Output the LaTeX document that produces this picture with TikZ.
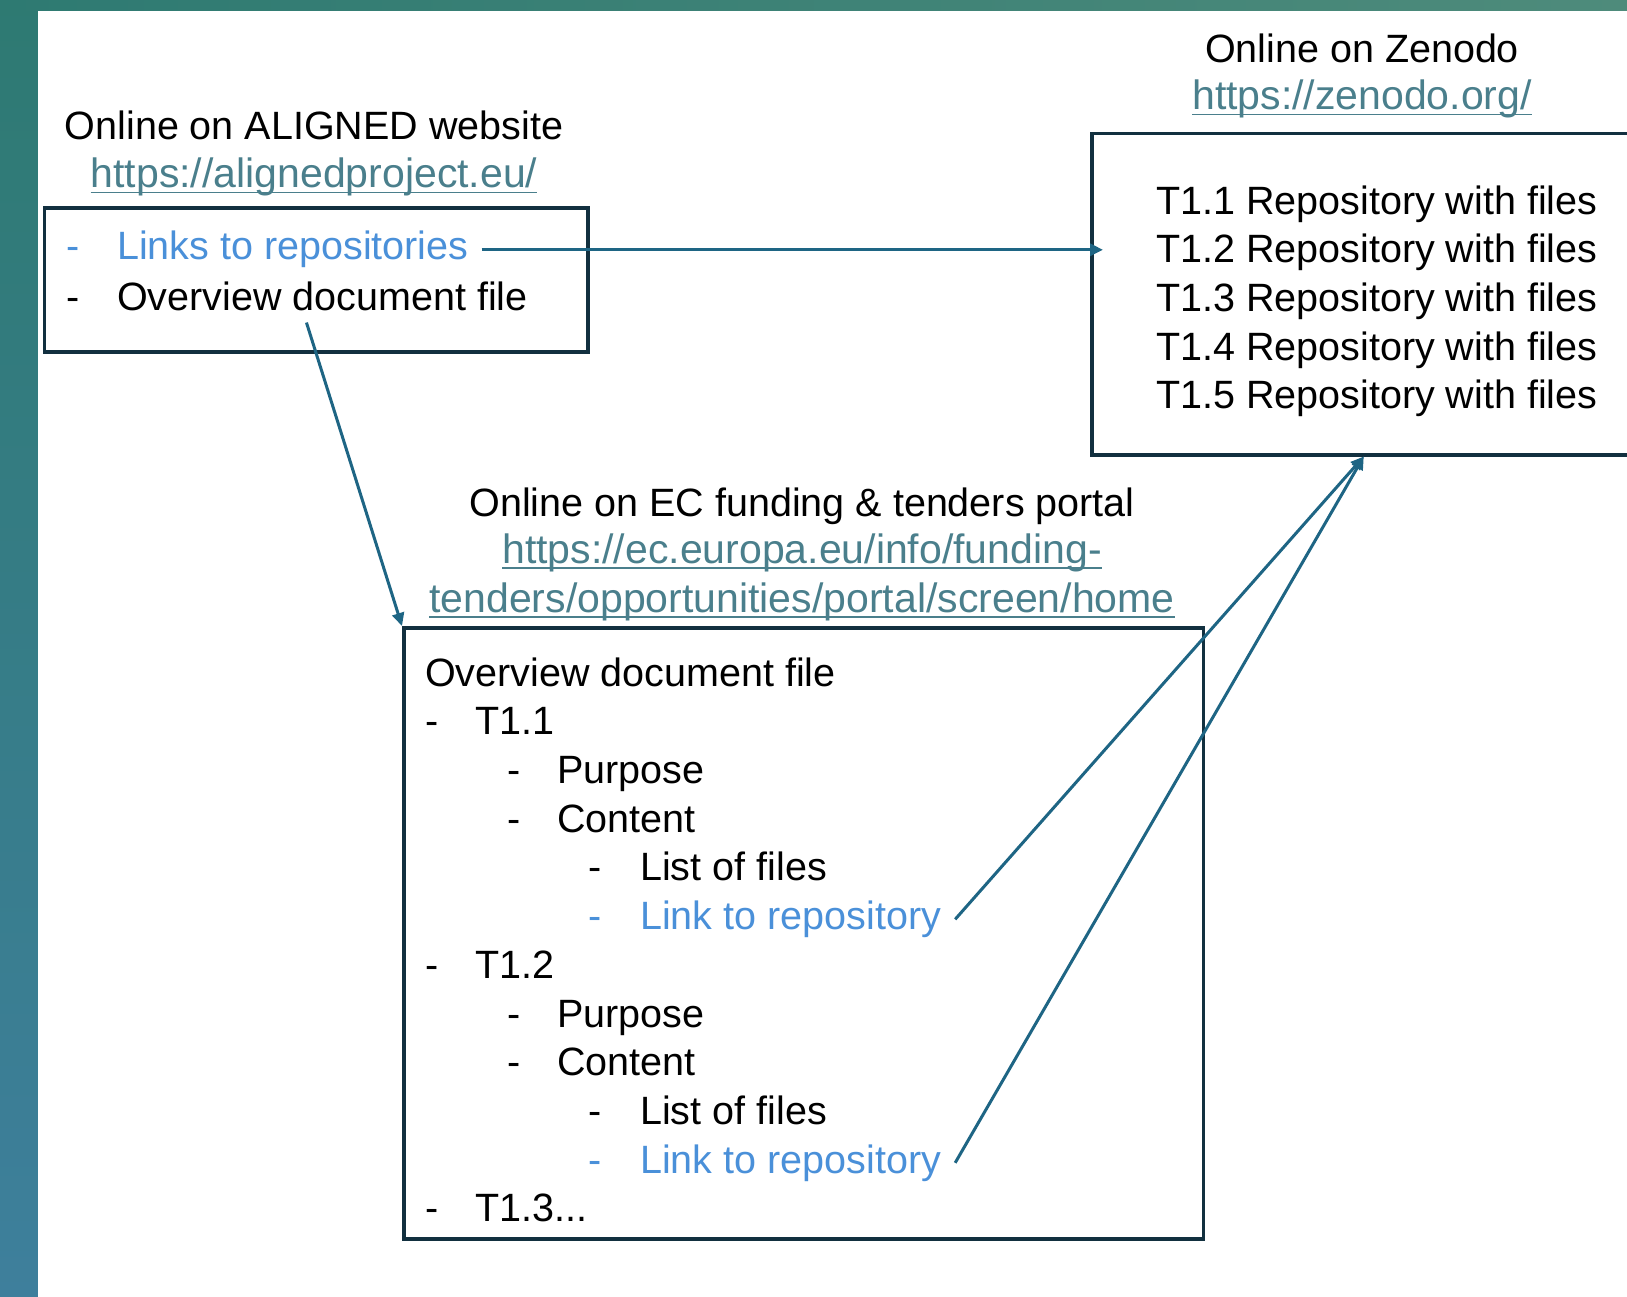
\documentclass[tikz,border=0pt]{standalone}
\usepackage{fontspec}
\setmainfont{Liberation Sans}
\usetikzlibrary{arrows.meta}
\definecolor{boxline}{HTML}{12303F}
\definecolor{arrowblue}{HTML}{1E6584}
\definecolor{linkblue}{HTML}{4A90D9}
\definecolor{urlteal}{HTML}{4A7F8C}
\definecolor{bandleft}{HTML}{2E7A72}
\definecolor{bandright}{HTML}{4E8B7B}
\definecolor{stripblue}{HTML}{3E7F9C}
\newcommand{\weblink}[1]{\textcolor{urlteal}{\fontsize{41}{48.7}\selectfont\setbox0\hbox{#1}\rlap{\rule[-5.5pt]{\wd0}{1.8pt}}\box0}}

\tikzset{
	txt/.style={inner sep=0pt, anchor=base west, font=\fontsize{39.5}{48.7}\selectfont},
	ttl/.style={txt, anchor=base},
	lnk/.style={txt, text=linkblue},
	box/.style={draw=boxline, line width=3.5pt, inner sep=0pt, anchor=north west},
	arr/.style={draw=arrowblue, line width=3pt, -{Triangle[length=13pt,width=12pt]}}
}

\begin{document}
\begin{tikzpicture}[x=1pt, y=-1pt]
			%%%%% START %%%%%
			\useasboundingbox (0,0) rectangle (1627,1297);
			\clip (0,0) rectangle (1627,1297);
			
			% background
			\shade[top color=bandleft, bottom color=stripblue] (0,0) rectangle (38,1297);
			\shade[left color=bandleft, right color=bandright] (0,0) rectangle (1627,11);
			\fill[white] (38,11) rectangle (1627,1297);
			
			% ALIGNED website
			\node[ttl] (sitettl) at (314,140) {Online on ALIGNED website};
			\node[ttl] (siteurl) at (314,188) {\weblink{https://alignedproject.eu/}};
			\node[box, minimum width=543.5pt, minimum height=143.5pt] (sitebox) at (42.5,206.5) {};
			\node[lnk] (linksdash) at (66,260) {-};
			\node[lnk] (links) at (117,260) {Links to repositories};
			\node[txt] (ovwdash) at (66,310) {-};
			\node[txt] (ovw) at (117,310) {Overview document file};
			
			% Zenodo
			\node[ttl] (zenttl) at (1362,63) {Online on Zenodo};
			\node[ttl] (zenurl) at (1362,110) {\weblink{https://zenodo.org/}};
			\node[box, minimum width=544pt, minimum height=321pt] (zbox) at (1090,132) {};
			\node[txt] (repoA) at (1156,215) {T1.1 Repository with files};
			\node[txt] (repoB) at (1156,263) {T1.2 Repository with files};
			\node[txt] (repoC) at (1156,311.5) {T1.3 Repository with files};
			\node[txt] (repoD) at (1156,360) {T1.4 Repository with files};
			\node[txt] (repoE) at (1156,408.5) {T1.5 Repository with files};
			
			% EC funding & tenders portal
			\node[ttl] (ecttl) at (802,516.5) {Online on EC funding \& tenders portal};
			\node[ttl] (ecurlA) at (802,563.5) {\weblink{https://ec.europa.eu/info/funding-}};
			\node[ttl] (ecurlB) at (802,612) {\weblink{tenders/opportunities/portal/screen/home}};
			\node[box, minimum width=799.5pt, minimum height=611pt] (ecbox) at (402,626) {};
			\node[txt] (ecovw) at (425,686) {Overview document file};
			\node[txt] (dA) at (425,734.7) {-};
			\node[txt] (tA) at (475,734.7) {T1.1};
			\node[txt] (dApur) at (507,783.4) {-};
			\node[txt] (tApur) at (557,783.4) {Purpose};
			\node[txt] (dAcon) at (507,832) {-};
			\node[txt] (tAcon) at (557,832) {Content};
			\node[txt] (dAlst) at (588,880.8) {-};
			\node[txt] (tAlst) at (640,880.8) {List of files};
			\node[lnk] (dAlnk) at (588,929.5) {-};
			\node[lnk] (tAlnk) at (640,929.5) {Link to repository};
			\node[txt] (dB) at (425,978) {-};
			\node[txt] (tB) at (475,978) {T1.2};
			\node[txt] (dBpur) at (507,1027) {-};
			\node[txt] (tBpur) at (557,1027) {Purpose};
			\node[txt] (dBcon) at (507,1075.6) {-};
			\node[txt] (tBcon) at (557,1075.6) {Content};
			\node[txt] (dBlst) at (588,1124) {-};
			\node[txt] (tBlst) at (640,1124) {List of files};
			\node[lnk] (dBlnk) at (588,1173) {-};
			\node[lnk] (tBlnk) at (640,1173) {Link to repository};
			\node[txt] (dC) at (425,1221.7) {-};
			\node[txt] (tC) at (475,1221.7) {T1.3...};
			
			% arrows
			\draw[arr] ([xshift=13pt]links.east) -- ([xshift=13pt]links.east -| zbox.west);
			\draw[arr] ([shift={(-16,12)}]ovw.south) -- (ecbox.north west);
			\draw[arr] ([xshift=14pt]tAlnk.east) -- (zbox.south);
			\draw[arr] ([xshift=14pt]tBlnk.east) -- (zbox.south);
			
			%%%%% END %%%%%
		\end{tikzpicture}
\end{document}
